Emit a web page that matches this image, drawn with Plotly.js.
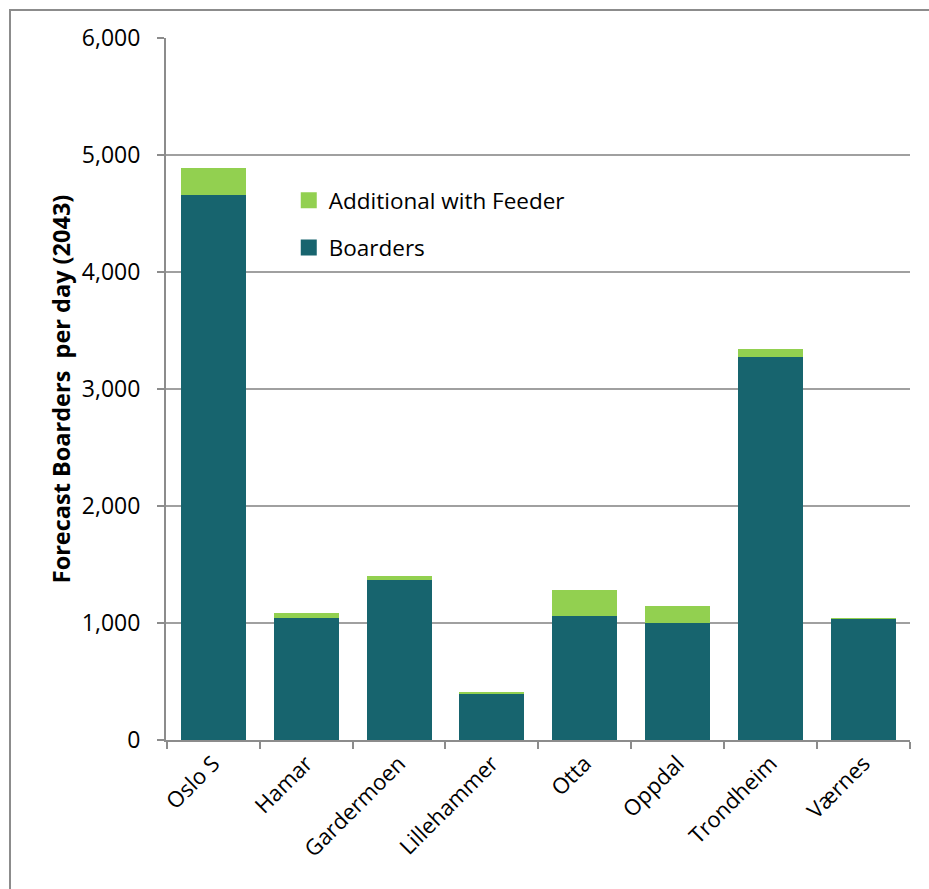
<!DOCTYPE html>
<html>
<head>
<meta charset="utf-8">
<script src="https://cdn.plot.ly/plotly-3.0.1.min.js"></script>
<style>
  html, body { margin: 0; padding: 0; background: #fff; }
  #wrap { position: relative; width: 929px; height: 889px; overflow: hidden; }
  #chart { width: 929px; height: 889px; }
  #frame { position: absolute; left: 9px; top: 9px; width: 1000px; height: 1000px;
           border-left: 2px solid #8c8c8c; border-top: 2px solid #8c8c8c; pointer-events: none; }
</style>
</head>
<body>
<div id="wrap">
  <div id="chart"></div>
  <div id="frame"></div>
</div>
<script>
const stations = ["Oslo S", "Hamar", "Gardermoen", "Lillehammer", "Otta", "Oppdal", "Trondheim", "Værnes"];
const boarders = [4660, 1045, 1368, 396, 1057, 1002, 3276, 1034];
const additionalWithFeeder = [225, 38, 37, 12, 225, 146, 66, 11];
const yTickValues = [0, 1000, 2000, 3000, 4000, 5000, 6000];

const FONT = "Open Sans, Calibri, sans-serif";
const TEAL = "#17646e";
const GREEN = "#92d050";

const traces = [
  {
    type: "bar", name: "Boarders", x: stations, y: boarders,
    marker: { color: TEAL, line: { width: 0 } },
    showlegend: false, hoverinfo: "x+y+name"
  },
  {
    type: "bar", name: "Additional with Feeder", x: stations, y: additionalWithFeeder,
    marker: { color: GREEN, line: { width: 0 } },
    showlegend: false, hoverinfo: "x+y+name"
  },
  // legend entries (square swatches)
  {
    type: "scatter", mode: "markers", name: "Additional with Feeder",
    x: [stations[0]], y: [null],
    marker: { symbol: "square", size: 16, color: GREEN },
    legendgroup: "a", legendrank: 1, hoverinfo: "skip"
  },
  {
    type: "scatter", mode: "markers", name: "Boarders",
    x: [stations[0]], y: [null],
    marker: { symbol: "square", size: 16, color: TEAL },
    legendgroup: "b", legendrank: 2, hoverinfo: "skip"
  }
];

const layout = {
  width: 929, height: 889,
  margin: { l: 166, r: 19, t: 38, b: 149 },
  paper_bgcolor: "rgba(0,0,0,0)", plot_bgcolor: "#fff",
  barmode: "stack", bargap: 0.3,
  font: { family: FONT, color: "#000", size: 20 },
  showlegend: true,
  legend: {
    x: 0.165, y: 0.799, xanchor: "left", yanchor: "top",
    traceorder: "grouped", tracegroupgap: 15, itemsizing: "trace",
    font: { family: FONT, size: 22.5, color: "#000" },
    bgcolor: "rgba(0,0,0,0)"
  },
  xaxis: {
    type: "category", showline: true, linecolor: "#8c8c8c", linewidth: 2,
    ticks: "outside", tickson: "boundaries", ticklen: 7, tickcolor: "#8c8c8c", tickwidth: 2,
    tickangle: -45, tickfont: { family: FONT, size: 22, color: "#000" },
    showgrid: false, zeroline: false
  },
  yaxis: {
    range: [0, 6000], tickvals: yTickValues, tickformat: ",",
    showline: true, linecolor: "#8c8c8c", linewidth: 2,
    ticks: "outside", ticklen: 7, tickcolor: "#8c8c8c", tickwidth: 2,
    showgrid: true, gridcolor: "#a0a0a0", gridwidth: 2, zeroline: false,
    tickfont: { family: FONT, size: 23, color: "#000" },
    ticklabelstandoff: 12,
    title: { text: "<b>Forecast Boarders  per day (2043)</b>", font: { family: FONT, size: 23.5, color: "#000" }, standoff: 5 }
  }
};

Plotly.newPlot("chart", traces, layout, { staticPlot: true, displayModeBar: false });
</script>
</body>
</html>
